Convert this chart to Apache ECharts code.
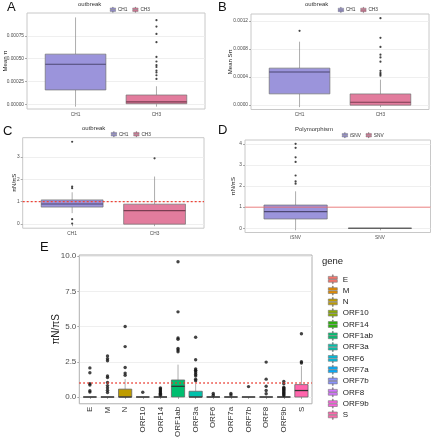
<!DOCTYPE html>
<html><head><meta charset="utf-8">
<script src="https://cdn.jsdelivr.net/npm/echarts@6/dist/echarts.min.js"></script>
<style>html,body{margin:0;padding:0;background:#fff}#c{width:432px;height:440px}</style>
</head><body><div id="c"></div>
<script>
// ---------- data ----------
const outbreakCats = ['CH1', 'CH3'];
const polyCats = ['iSNV', 'SNV'];
const genes = ['E','M','N','ORF10','ORF14','ORF1ab','ORF3a','ORF6','ORF7a','ORF7b','ORF8','ORF9b','S'];

// box stats: [min(whisker), Q1, median, Q3, max(whisker)]
// Panel A: Mean π
const piCH1 = [0, 0.00016, 0.00044, 0.00055, 0.00095];
const piCH3 = [0, 0.00001, 0.00003, 0.000105, 0.00020];
const piCH1Out = [];
const piCH3Out = [0.00092, 0.00085, 0.00077, 0.00068, 0.00052, 0.00047, 0.00043, 0.00041, 0.00037, 0.00035, 0.00032, 0.00028];
// Panel B: Mean Sπ
const spCH1 = [0, 0.000161, 0.000472, 0.000528, 0.000905];
const spCH3 = [0, 0, 0.000042, 0.00016, 0.000363];
const spCH1Out = [0.00106];
const spCH3Out = [0.00124, 0.00096, 0.00083, 0.00072, 0.00068, 0.00062, 0.00049, 0.00046, 0.00044, 0.00042];
// Panel C: πN/πS by outbreak
const rCH1 = [0.49, 0.76, 0.9, 1.08, 1.42];
const rCH3 = [0, 0, 0.6, 0.89, 2.12];
const rCH1Out = [3.67, 1.67, 1.6, 0.22, 0.03];
const rCH3Out = [2.93];
// Panel D: πN/πS by polymorphism
const rISNV = [0, 0.44, 0.79, 1.1, 1.75];
const rSNV = [0, 0, 0, 0, 0];
const rISNVOut = [4.0, 3.81, 3.36, 3.14, 2.5, 2.22, 2.11];
const rSNVOut = [];
// Panel E: πN/πS by gene
const geneBoxes = [
  [0, 0, 0, 0, 0],        // E
  [0, 0, 0, 0, 0],        // M
  [0, 0, 0, 0.56, 1.27],  // N
  [0, 0, 0, 0, 0],        // ORF10
  [0, 0, 0, 0, 0],        // ORF14
  [0, 0, 0.76, 1.21, 2.3],// ORF1ab
  [0, 0, 0, 0.41, 0.95],  // ORF3a
  [0, 0, 0, 0, 0],        // ORF6
  [0, 0, 0, 0, 0],        // ORF7a
  [0, 0, 0, 0, 0],        // ORF7b
  [0, 0, 0, 0, 0],        // ORF8
  [0, 0, 0, 0, 0],        // ORF9b
  [0, 0, 0.46, 0.88, 2.2] // S
];
const geneOut = [
  [2.07, 1.72, 0.95, 0.85, 0.45, 0.35],
  [2.92, 2.72, 2.58, 1.5, 1.38, 1.03, 0.81, 0.65, 0.48, 0.32],
  [5.01, 3.58, 2.1, 1.7, 1.55],
  [0.34],
  [0.65, 0.58, 0.5, 0.42, 0.35, 0.27, 0.2, 0.12],
  [9.61, 6.05, 4.2, 4.1, 3.45, 3.34, 3.22],
  [4.25, 2.65, 2.0, 1.9, 1.84, 1.72, 1.6, 1.5, 1.27, 1.15],
  [0.25, 0.12],
  [0.25, 0.15],
  [0.74],
  [2.48, 1.27, 0.76, 0.46, 0.23],
  [1.1, 0.95, 0.7, 0.62, 0.55, 0.48, 0.4, 0.32, 0.25, 0.18, 0.1],
  [4.5, 2.5, 2.42]
];
// axis tick labels
const ticksA = [0, 0.00025, 0.0005, 0.00075];
const ticksB = [0, 0.0004, 0.0008, 0.0012];
const ticksC = [0, 1, 2, 3];
const ticksD = [0, 1, 2, 3, 4];
const ticksE = [0, 2.5, 5, 7.5, 10];
const refLine = 1;

// ---------- styling ----------
const FONT = 'Liberation Sans, Arial, sans-serif';
const geneColors = ['#F8766D','#E18A00','#BE9C00','#8CAB00','#24B700','#00BE70','#00C1AB','#00BBDA','#00ACFC','#8B93FF','#D575FE','#F962DD','#FF65AC'];
const colCH1 = '#9B94DB', colCH3 = '#E27C9D';
const medianColors = {CH1: '#4d4772', CH3: '#7a3d52', iSNV: '#4d4772', SNV: '#555'};
const BOX_ICON = 'path://M4.6,0H5.4V1.6H4.6Z M0.5,1.6H9.5V4.2H0.5Z M0.5,4.8H9.5V7.4H0.5Z M4.6,7.4H5.4V9H4.6Z';

function makeRender(border, median, whisk, lw) {
  return function (params, api) {
    const x = api.value(0);
    const lo = api.coord([x, api.value(1)]);
    const q1 = api.coord([x, api.value(2)]);
    const md = api.coord([x, api.value(3)]);
    const q3 = api.coord([x, api.value(4)]);
    const hi = api.coord([x, api.value(5)]);
    const half = api.size([0.75, 0])[0] / 2;
    const cx = q1[0];
    return {type: 'group', children: [
      {type: 'line', shape: {x1: cx, y1: hi[1], x2: cx, y2: q3[1]}, style: {stroke: whisk, lineWidth: lw}},
      {type: 'line', shape: {x1: cx, y1: q1[1], x2: cx, y2: lo[1]}, style: {stroke: whisk, lineWidth: lw}},
      {type: 'rect', shape: {x: cx - half, y: q3[1], width: 2 * half, height: q1[1] - q3[1]},
        style: {fill: api.visual('color'), stroke: border, lineWidth: lw}},
      {type: 'line', shape: {x1: cx - half, y1: md[1], x2: cx + half, y2: md[1]}, style: {stroke: median, lineWidth: lw * 1.6}}
    ]};
  };
}

const gridBase = {show: true, borderColor: '#c8c8c8', borderWidth: 1, backgroundColor: '#fff'};
const grids = [
  Object.assign({left: 27, top: 13, width: 178, height: 96}, gridBase),
  Object.assign({left: 251, top: 14, width: 178, height: 95.5}, gridBase),
  Object.assign({left: 22.7, top: 137.7, width: 181.3, height: 90.5}, gridBase),
  Object.assign({left: 245, top: 140, width: 185.5, height: 92.5}, gridBase),
  Object.assign({left: 79.3, top: 255, width: 232.7, height: 153.5}, gridBase, {borderColor: '#b0b0b0'})
];

const SMALL_FS = 4.8, SMALL_TITLE = 6;
const xRange = n => [0.4, n + 0.6];
function xAx(gi, cats, small) {
  const vals = cats.map((c, i) => i + 1);
  const r = xRange(cats.length);
  return {
    type: 'value', gridIndex: gi, min: r[0], max: r[1],
    axisLine: {show: false}, splitLine: {show: false},
    axisTick: {customValues: vals, length: 2, lineStyle: {color: '#888', width: 0.7}},
    axisLabel: {customValues: vals, formatter: v => cats[Math.round(v) - 1], fontSize: small ? SMALL_FS : 8,
      color: small ? '#4d4d4d' : '#333', margin: small ? 3 : 3, rotate: small ? 0 : 90, fontFamily: FONT}
  };
}
function yAx(gi, min, max, ticks, fmt, name, fs, nameFs, gap) {
  return {
    type: 'value', gridIndex: gi, min: min, max: max,
    name: name, nameLocation: 'middle', nameRotate: 90, nameGap: gap, nameMoveOverlap: false,
    nameTextStyle: {fontSize: nameFs, color: '#222', fontFamily: FONT},
    axisLine: {show: false},
    axisTick: {customValues: ticks, length: 2, lineStyle: {color: '#888', width: 0.7}},
    axisLabel: {customValues: ticks, formatter: fmt, fontSize: fs, color: '#4d4d4d', margin: 3, fontFamily: FONT},
    splitLine: {show: true, lineStyle: {color: '#ebebeb', width: 0.8}}
  };
}

const xAxes = [xAx(0, outbreakCats, true), xAx(1, outbreakCats, true), xAx(2, outbreakCats, true), xAx(3, polyCats, true), xAx(4, genes, false)];
const yAxes = [
  yAx(0, -0.0000475, 0.000998, ticksA, v => v.toFixed(5), 'Mean π', SMALL_FS, SMALL_TITLE, 19),
  yAx(1, -0.000062, 0.0013, ticksB, v => v.toFixed(4), 'Mean Sπ', SMALL_FS, SMALL_TITLE, 18),
  yAx(2, -0.18, 3.85, ticksC, v => String(v), 'πN/πS', SMALL_FS, SMALL_TITLE, 5.5),
  yAx(3, -0.2, 4.18, ticksD, v => String(v), 'πN/πS', SMALL_FS, SMALL_TITLE, 8.5),
  yAx(4, -0.48, 10.09, ticksE, v => v.toFixed(1), 'πN/πS', 8, 10, 18.5)
];

const series = [];
function addBox(name, idx, xPos, stats, outs, color, median, small) {
  series.push({
    type: 'custom', name: name, xAxisIndex: idx, yAxisIndex: idx, z: 2,
    itemStyle: {color: color},
    renderItem: makeRender(small ? '#707070' : '#666', median, small ? '#8a8a8a' : '#9a9a9a', small ? 0.7 : 0.8),
    encode: {x: 0, y: [1, 2, 3, 4, 5]},
    data: [[xPos].concat(stats)], silent: true
  });
  series.push({
    type: 'scatter', xAxisIndex: idx, yAxisIndex: idx, z: 4, silent: true,
    symbolSize: small ? 2.2 : 3.4, itemStyle: {color: '#151515'},
    data: outs.map(v => [xPos, v])
  });
}
function addRefLine(idx, nCats, width, color, type) {
  const r = xRange(nCats);
  series.push({
    type: 'line', xAxisIndex: idx, yAxisIndex: idx, z: 6, silent: true, symbol: 'none',
    itemStyle: {color: color}, lineStyle: {color: color, width: width, type: type},
    data: [[r[0], refLine], [r[1], refLine]]
  });
}

addBox('CH1', 0, 1, piCH1, piCH1Out, colCH1, medianColors.CH1, true);
addBox('CH3', 0, 2, piCH3, piCH3Out, colCH3, medianColors.CH3, true);
addBox('CH1', 1, 1, spCH1, spCH1Out, colCH1, medianColors.CH1, true);
addBox('CH3', 1, 2, spCH3, spCH3Out, colCH3, medianColors.CH3, true);
addBox('CH1', 2, 1, rCH1, rCH1Out, colCH1, medianColors.CH1, true);
addBox('CH3', 2, 2, rCH3, rCH3Out, colCH3, medianColors.CH3, true);
addRefLine(2, 2, 1.2, '#ee4438', [2, 2]);
addBox('iSNV', 3, 1, rISNV, rISNVOut, colCH1, medianColors.iSNV, true);
addBox('SNV', 3, 2, rSNV, rSNVOut, colCH3, medianColors.SNV, true);
addRefLine(3, 2, 0.8, '#f06a6a', 'solid');
genes.forEach((g, i) => {
  addBox(g, 4, i + 1, geneBoxes[i], geneOut[i], geneColors[i], '#333', false);
});
addRefLine(4, genes.length, 1.5, '#e8352b', [1.5, 2.5]);

const smallLegend = (names, left, top) => ({
  data: names, left: left, top: top, itemWidth: 6, itemHeight: 5.4, itemGap: 5,
  icon: BOX_ICON, selectedMode: false,
  itemStyle: {borderColor: '#666', borderWidth: 0.4},
  textStyle: {fontSize: SMALL_FS, color: '#333', fontFamily: FONT, padding: [0, 0, 0, -3]}
});
const legends = [
  smallLegend(outbreakCats, 105, 1.8),
  smallLegend(outbreakCats, 333, 2),
  smallLegend(outbreakCats, 106, 126.3),
  smallLegend(polyCats, 337, 127.3),
  {data: genes, orient: 'vertical', left: 323, top: 269.5, itemWidth: 10, itemHeight: 9, itemGap: 1.7,
    icon: BOX_ICON, selectedMode: false, itemStyle: {borderColor: '#777', borderWidth: 0.6},
    textStyle: {fontSize: 8, color: '#222', fontFamily: FONT, lineHeight: 9}}
];

const txt = (s, left, top, fs, color) => ({type: 'text', left: left, top: top,
  style: {text: s, fontSize: fs, fill: color || '#111', fontFamily: FONT}});
const graphics = [
  txt('A', 7, 1, 13), txt('B', 218, 1, 13), txt('C', 3, 125, 13), txt('D', 218, 124, 13), txt('E', 40, 241, 13),
  txt('outbreak', 78, 1.2, SMALL_TITLE, '#333'), txt('outbreak', 305, 1.4, SMALL_TITLE, '#333'),
  txt('outbreak', 82, 125.7, SMALL_TITLE, '#333'), txt('Polymorphism', 295, 126.7, SMALL_TITLE, '#333'),
  txt('gene', 322, 256.5, 9.5, '#222')
];

const chart = echarts.init(document.getElementById('c'), null, {renderer: 'canvas'});
chart.setOption({
  animation: false, backgroundColor: '#fff',
  textStyle: {fontFamily: FONT},
  grid: grids, xAxis: xAxes, yAxis: yAxes, series: series, legend: legends, graphic: graphics
});
</script></body></html>
